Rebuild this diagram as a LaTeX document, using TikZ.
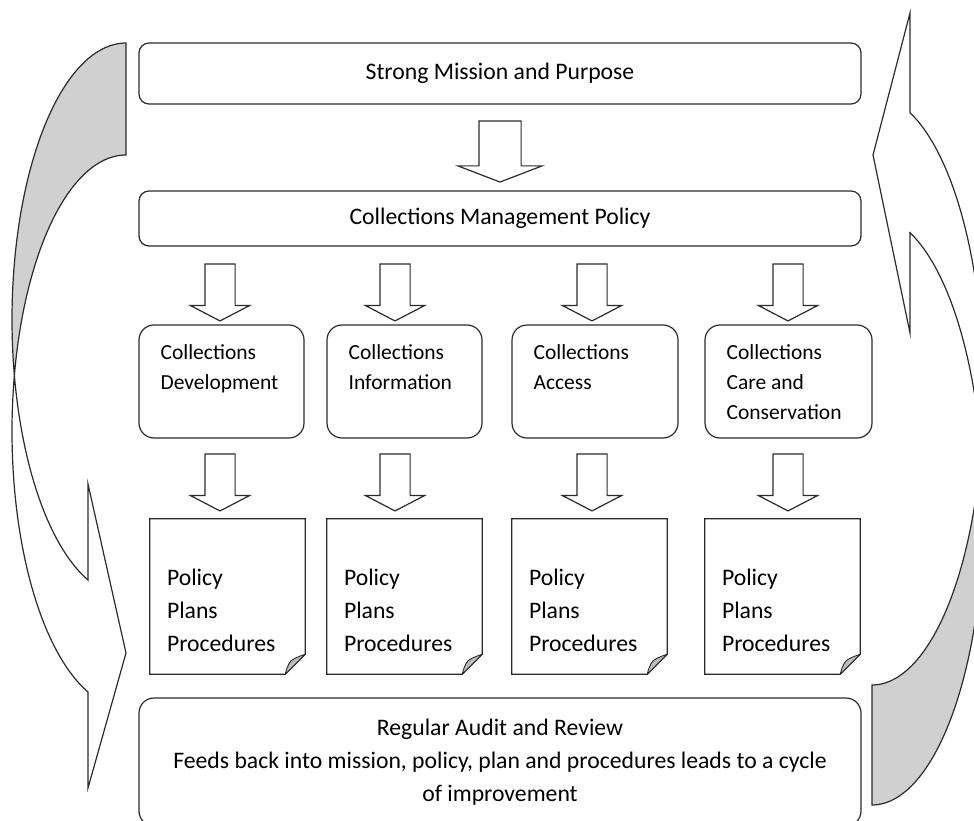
\documentclass[tikz,border=0pt]{standalone}
\usepackage{fontspec}
\setmainfont{Carlito}
\usetikzlibrary{shapes.arrows,calc}
\definecolor{lncol}{HTML}{2B2B2B}
\definecolor{bandgray}{HTML}{D0D0D0}
\definecolor{flapgray}{HTML}{BDBDBD}
\begin{document}
\begin{tikzpicture}[x=1pt,y=-1pt,
  ln/.style={draw=lncol, line width=1.2pt, line join=miter},
  bigbox/.style={ln, rounded corners=10, minimum width=722, inner sep=0,
    font=\fontsize{23.7}{33}\selectfont},
  cbox/.style={ln, rounded corners=15, minimum height=113, inner sep=0},
  ctext/.style={anchor=north west, inner sep=0, align=left,
    font=\fontsize{21.5}{30}\selectfont},
  docnode/.style={minimum width=155, minimum height=155, inner sep=0},
  dtext/.style={anchor=west, inner sep=0, align=left,
    font=\fontsize{23.7}{33}\selectfont},
  bigarrow/.style={ln, single arrow, shape border rotate=270,
    minimum height=61, inner xsep=20.5, inner ysep=0,
    single arrow head extend=21, single arrow tip angle=138,
    single arrow head indent=0},
  smallarrow/.style={ln, single arrow, shape border rotate=270,
    minimum height=57, inner xsep=14.5, inner ysep=0,
    single arrow head extend=14.5, single arrow tip angle=125,
    single arrow head indent=0},
]
\useasboundingbox (0,0) rectangle (974,821);
\clip (0,0) rectangle (974,821);

% ---------- left curved arrow (pointing right, at the bottom) ----------
\fill[bandgray]
  plot[domain=90:191.69, samples=60, variable=\t] ({126+114*cos(\t)},{319.4-276.4*sin(\t)})
  -- plot[domain=168.31:90, samples=60, variable=\t] ({126+114*cos(\t)},{431.4-276.4*sin(\t)})
  -- cycle;
\draw[ln]
  plot[domain=90:250.5, samples=100, variable=\t] ({126+114*cos(\t)},{431.4-276.4*sin(\t)})
  -- (88,788) -- (126,653) -- (88,484) -- (88,580)
  -- plot[domain=250.5:90, samples=100, variable=\t] ({126+114*cos(\t)},{319.4-276.4*sin(\t)})
  -- cycle;

% ---------- right curved arrow (pointing left, at the top) ----------
\fill[bandgray]
  plot[domain=-90:-11.73, samples=60, variable=\t] ({872+111.5*cos(\t)},{390-295*sin(\t)})
  -- plot[domain=11.73:-90, samples=60, variable=\t] ({872+111.5*cos(\t)},{510-295*sin(\t)})
  -- cycle;
\draw[ln]
  plot[domain=-90:70.1, samples=100, variable=\t] ({872+111.5*cos(\t)},{390-295*sin(\t)})
  -- (910,13) -- (873,155) -- (910,333) -- (910,232.6)
  -- plot[domain=70.1:-90, samples=100, variable=\t] ({872+111.5*cos(\t)},{510-295*sin(\t)})
  -- cycle;

% ---------- top boxes ----------
\node[bigbox, minimum height=61] (mission) at (500,73.5) {Strong Mission and Purpose};
\node[bigbox, minimum height=55] (policy) at (500,218.5) {Collections Management Policy};
\node[bigarrow] (a0) at ($(mission.south)!0.5!(policy.north)$) {};

% ---------- arrows row 1 ----------
\node[smallarrow] (s1) at (220,288.5) {};
\node[smallarrow] (s2) at (395,288.5) {};
\node[smallarrow] (s3) at (592,288.5) {};
\node[smallarrow] (s4) at (788,288.5) {};

% ---------- category boxes ----------
\node[cbox, minimum width=165] (b1) at (221.5,381.5) {};
\node[cbox, minimum width=155] (b2) at (404.5,381.5) {};
\node[cbox, minimum width=166] (b3) at (595,381.5) {};
\node[cbox, minimum width=167] (b4) at (788.5,381.5) {};
\node[ctext] (t1) at ($(b1.north west)+(22,20)$) {Collections\\Development};
\node[ctext] (t2) at ($(b2.north west)+(22,20)$) {Collections\\Information};
\node[ctext] (t3) at ($(b3.north west)+(22,20)$) {Collections\\Access};
\node[ctext] (t4) at ($(b4.north west)+(22,20)$) {Collections\\Care and\\Conservation};

% ---------- arrows row 2 ----------
\node[smallarrow] (r1) at (220,478.5) {};
\node[smallarrow] (r2) at (395,478.5) {};
\node[smallarrow] (r3) at (592,478.5) {};
\node[smallarrow] (r4) at (788,478.5) {};

% ---------- documents ----------
\node[docnode] (d1) at (227.5,596.5) {};
\node[docnode] (d2) at (404.5,596.5) {};
\node[docnode] (d3) at (589.5,596.5) {};
\node[docnode] (d4) at (782.5,596.5) {};
\foreach \d in {d1,d2,d3,d4}{
  \draw[ln, fill=white] (\d.north west) -- (\d.north east)
    -- ($(\d.south east)+(0,-20)$) -- ($(\d.south east)+(-20,0)$)
    -- (\d.south west) -- cycle;
  \filldraw[draw=lncol, line width=0.9pt, fill=flapgray, line join=round]
    ($(\d.south east)+(-20,0)$) -- ($(\d.south east)+(0,-20)$)
    .. controls ($(\d.south east)+(-8,-17)$) and ($(\d.south east)+(-14,-15)$) .. ($(\d.south east)+(-16,-11)$)
    .. controls ($(\d.south east)+(-18,-7)$) .. cycle;
  \node[dtext] (\d t) at ($(\d.west)+(17,14)$) {Policy\\Plans\\Procedures};
}

% ---------- bottom box ----------
\node[bigbox, rounded corners=15, minimum height=128, align=center] (audit) at (500,762)
  {Regular Audit and Review\\Feeds back into mission, policy, plan and procedures leads to a cycle\\of improvement};
\end{tikzpicture}
\end{document}
